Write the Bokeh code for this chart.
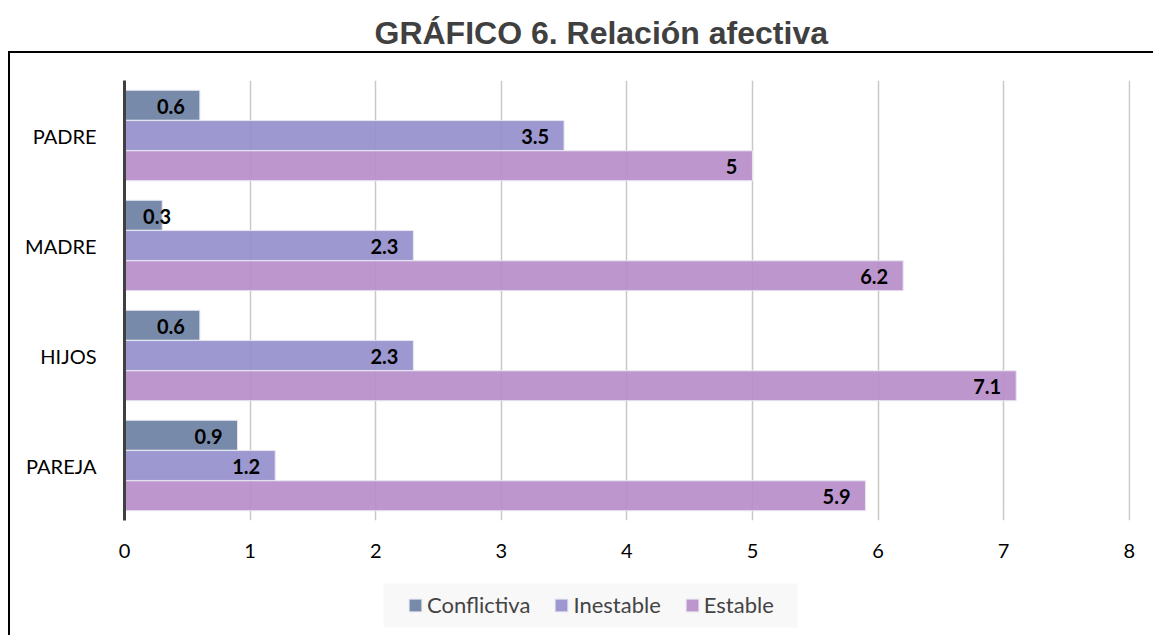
from bokeh.plotting import figure
from bokeh.layouts import column
from bokeh.models import ColumnDataSource, FactorRange, Legend, LegendItem, Label, BoxAnnotation
from bokeh.transform import dodge
from bokeh.core.properties import value
from bokeh.embed import file_html
from bokeh.resources import INLINE

categories = ["PAREJA", "HIJOS", "MADRE", "PADRE"]
conflictiva = [0.9, 0.6, 0.3, 0.6]
inestable = [1.2, 2.3, 2.3, 3.5]
estable = [5.9, 7.1, 6.2, 5.0]
series_names = ["Conflictiva", "Inestable", "Estable"]
x_ticks = [0, 1, 2, 3, 4, 5, 6, 7, 8]
title_text = "GRÁFICO 6. Relación afectiva"

colors = ["#6d80a3", "#958fcb", "#b88dca"]
offsets = [0.275, 0.0, -0.275]
bar_h = 0.272
label_font = "Lato"

# ---- title strip (pixel-mapped ranges) ----
tf = figure(width=1153, height=51, toolbar_location=None, output_backend="svg",
            min_border=0, x_range=(0, 1153), y_range=(51, 0))
tf.xaxis.visible = False
tf.yaxis.visible = False
tf.grid.visible = False
tf.outline_line_color = None
tf.add_layout(Label(x=374, y=32, text=title_text, text_font="Liberation Sans",
                    text_font_size="32px", text_font_style="bold", text_color="#404040",
                    text_baseline="alphabetic", text_align="left"))

# ---- main chart ----
p = figure(width=1143, height=522, y_range=FactorRange(factors=categories, range_padding=0),
           x_range=(0, 8.01), output_backend="svg", toolbar_location=None,
           min_border_left=114, min_border_right=23, min_border_top=27, min_border_bottom=55)
p.outline_line_color = None
p.background_fill_color = "white"

src = ColumnDataSource(dict(cat=categories, Conflictiva=conflictiva, Inestable=inestable, Estable=estable))

all_series = [conflictiva, inestable, estable]
for name, col, off, vals in zip(series_names, colors, offsets, all_series):
    p.hbar(y=dodge("cat", off, range=p.y_range), right=name, left=0, height=bar_h,
           source=src, fill_color=col, fill_alpha=0.92, line_color="#e6e6f0", line_width=1)
    lx = [max(v, 0.49) for v in vals]
    lsrc = ColumnDataSource(dict(cat=categories, x=lx, t=[("%g" % v) for v in vals]))
    p.text(x="x", y=dodge("cat", off, range=p.y_range), text="t", source=lsrc,
           text_align="right", text_baseline="middle", x_offset=-15, y_offset=1,
           text_font=value(label_font), text_font_style="bold", text_font_size="20px",
           text_color="black")

p.xaxis.ticker = x_ticks
p.xaxis.axis_line_color = None
p.xaxis.major_tick_line_color = None
p.xaxis.minor_tick_line_color = None
p.xaxis.major_label_text_font = label_font
p.xaxis.major_label_text_font_size = "20px"
p.xaxis.major_label_text_color = "black"
p.xaxis.major_label_standoff = 17

p.yaxis.axis_line_color = "#404040"
p.yaxis.axis_line_width = 3
p.yaxis.major_tick_line_color = None
p.yaxis.minor_tick_line_color = None
p.yaxis.major_label_text_font = label_font
p.yaxis.major_label_text_font_size = "20px"
p.yaxis.major_label_text_color = "black"
p.yaxis.major_label_standoff = 22

p.xgrid.ticker = x_ticks
p.xgrid.grid_line_color = "#c8c8c8"
p.xgrid.grid_line_width = 1.5
p.ygrid.grid_line_color = None

# ---- legend strip (ranges mapped to page pixels) ----
lf = figure(width=1143, height=60, toolbar_location=None, output_backend="svg",
            min_border_top=0, min_border_bottom=0, min_border_left=114, min_border_right=23,
            x_range=(124, 1130), y_range=(635, 575))
lf.xaxis.visible = False
lf.yaxis.visible = False
lf.grid.visible = False
lf.outline_line_color = None
lf.add_layout(BoxAnnotation(left=383, right=797, top=583, bottom=627,
                            fill_color="#f8f8f8", fill_alpha=1, line_color=None, level="underlay"))
items = []
for name, col in zip(series_names, colors):
    r = lf.quad(left=[0], right=[1], top=[0], bottom=[1], fill_color=col, fill_alpha=0.92,
                line_color="#e6e6f0", line_width=1)
    items.append(LegendItem(label=name, renderers=[r]))
legend = Legend(items=items, orientation="horizontal", location=(283, 17),
                background_fill_alpha=0, border_line_color=None,
                glyph_width=16, glyph_height=16,
                label_text_font=label_font, label_text_font_size="22px",
                label_standoff=4, spacing=23, padding=0, margin=0)
lf.add_layout(legend, "center")

boxed = column(p, lf, spacing=0, margin=(0, 0, 0, 8),
               styles={"border-left": "2px solid #000", "border-top": "2px solid #000"})
layout = column(tf, boxed, spacing=0)

open("out.html", "w").write(file_html(layout, INLINE))
